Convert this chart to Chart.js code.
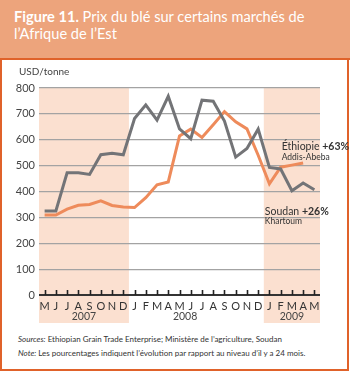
<!DOCTYPE html>
<html>
<head>
<meta charset="utf-8">
<script src="https://cdn.jsdelivr.net/npm/chart.js@4/dist/chart.umd.min.js"></script>
<style>
  body { margin: 0; background: #fff; }
  #fig { position: relative; width: 350px; height: 372px; overflow: hidden; font-family: Lato, sans-serif; }
  #head { position: absolute; left: 0; top: 0; width: 350px; height: 58px; background: #EDA47C; border-bottom: 2px solid #E0622A; }
  #head div { position: absolute; left: 14px; top: 8px; color: #fff; font-size: 14.6px; line-height: 17px; }
  #frame { position: absolute; left: 0; top: 60px; width: 345px; height: 309px; border: 2px solid #E0622A; border-top: none; }
  #chartBox { position: absolute; left: 0; top: 60px; width: 350px; height: 270px; }
  #notes { position: absolute; left: 18px; top: 332px; font-size: 8px; line-height: 14px; color: #333; }
</style>
</head>
<body>
<div id="fig">
  <div id="head"><div><b>Figure 11.</b> Prix du blé sur certains marchés de<br>l’Afrique de l’Est</div></div>
  <div id="frame"></div>
  <div id="chartBox"><canvas id="chart" width="350" height="270"></canvas></div>
  <div id="notes">
    <i>Sources:</i> Ethiopian Grain Trade Enterprise; Ministère de l’agriculture, Soudan<br>
    <i>Note:</i> Les pourcentages indiquent l’évolution par rapport au niveau d’il y a 24 mois.
  </div>
</div>
<script>
// May 2007 .. May 2009
const months = ['M','J','J','A','S','O','N','D','J','F','M','A','M','J','J','A','S','O','N','D','J','F','M','A','M'];
const soudanKhartoum = [325, 325, 472, 472, 466, 542, 548, 542, 682, 735, 676, 768, 642, 604, 753, 749, 672, 533, 566, 641, 493, 487, 403, 433, 407];
const ethiopieAddis = [309, 309, 332, 347, 350, 364, 346, 340, 338, 376, 426, 437, 615, 641, 609, 658, 709, 669, 642, 540, 430, 494, 502, 510, null];
const yTicks = [0, 100, 200, 300, 400, 500, 600, 700, 800];
// year label, centred at this category position
const years = [['2007', 3.5], ['2008', 12.5], ['2009', 22]];
// shaded spans, in category positions
const shaded = [[-0.5, 7.5], [19.5, 24.5]];

const ORANGE = '#EE8B5B';
const GREY = '#737477';
const SHADE = '#FBE0D0';

const decorations = {
  id: 'decorations',
  beforeDraw(chart) {
    const { ctx, chartArea, scales: { x } } = chart;
    ctx.save();
    ctx.fillStyle = SHADE;
    shaded.forEach(([a, b]) => {
      const x0 = x.getPixelForValue(a);
      const x1 = x.getPixelForValue(b);
      ctx.fillRect(x0, chartArea.top - 1, x1 - x0, chartArea.bottom - chartArea.top + 29);
    });
    ctx.restore();
  },
  afterDraw(chart) {
    const { ctx, chartArea, scales: { x, y } } = chart;
    ctx.save();
    // tick marks pointing up from the axis
    ctx.strokeStyle = '#222';
    ctx.lineWidth = 1.6;
    months.forEach((m, i) => {
      const px = Math.round(x.getPixelForValue(i)) + 0.5;
      ctx.beginPath();
      ctx.moveTo(px, chartArea.bottom);
      ctx.lineTo(px, chartArea.bottom - 5);
      ctx.stroke();
    });
    // year labels
    ctx.fillStyle = '#444';
    ctx.font = '10.5px Lato';
    ctx.textAlign = 'center';
    ctx.textBaseline = 'middle';
    years.forEach(([t, pos]) => {
      ctx.fillText(t, x.getPixelForValue(pos), chartArea.bottom + 22);
    });
    // unit
    ctx.font = '10px Lato';
    ctx.textAlign = 'left';
    ctx.fillText('USD/tonne', chartArea.left - 20, chartArea.top - 16);

    // series labels, placed from the series end points
    const eX = x.getPixelForValue(21);
    const eY = y.getPixelForValue(ethiopieAddis[23]);
    ctx.font = '10.5px Lato';
    ctx.textBaseline = 'alphabetic';
    ctx.fillStyle = '#333';
    let w = ctx.measureText('Éthiopie ').width;
    ctx.fillText('Éthiopie ', eX + 1, eY - 13);
    ctx.font = 'bold 10.5px Lato';
    ctx.fillText('+63%', eX + 1 + w, eY - 13);
    ctx.font = '8.5px Lato';
    ctx.fillText('Addis-Abeba', eX + 1, eY - 3);

    const sX = x.getPixelForValue(19.5);
    const sY = y.getPixelForValue(soudanKhartoum[24]);
    ctx.font = '10.5px Lato';
    w = ctx.measureText('Soudan ').width;
    ctx.fillText('Soudan ', sX + 1, sY + 25);
    ctx.font = 'bold 10.5px Lato';
    ctx.fillText('+26%', sX + 1 + w, sY + 25);
    ctx.font = '8.5px Lato';
    ctx.fillText('Khartoum', sX + 1, sY + 34);
    ctx.restore();
  }
};

new Chart(document.getElementById('chart'), {
  type: 'line',
  data: {
    labels: months,
    datasets: [
      {
        label: 'Soudan, Khartoum',
        data: soudanKhartoum,
        borderColor: GREY,
        borderWidth: 3,
        pointRadius: 0,
        tension: 0
      },
      {
        label: 'Éthiopie, Addis-Abeba',
        data: ethiopieAddis,
        borderColor: ORANGE,
        borderWidth: 3,
        pointRadius: 0,
        tension: 0
      }
    ]
  },
  options: {
    responsive: false,
    animation: false,
    layout: { padding: { left: 0, right: 30, top: 28, bottom: 0 } },
    plugins: { legend: { display: false }, tooltip: { enabled: false } },
    scales: {
      x: {
        offset: true,
        grid: { display: false, drawTicks: false },
        border: { display: false },
        ticks: {
          autoSkip: false,
          maxRotation: 0,
          padding: 5,
          color: '#333',
          font: { family: 'Lato', size: 11 }
        },
        afterFit: (scale) => { scale.height = 35; }
      },
      y: {
        min: 0,
        max: 800,
        afterBuildTicks: (scale) => { scale.ticks = yTicks.map(v => ({ value: v })); },
        grid: {
          drawTicks: false,
          color: (c) => c.tick.value === 0 ? '#333' : '#A3A3A3',
          lineWidth: (c) => c.tick.value === 0 ? 2 : 1.2
        },
        border: { display: false },
        ticks: {
          padding: 4,
          color: '#444',
          font: { family: 'Lato', size: 11 }
        },
        afterFit: (scale) => { scale.width = 39; }
      }
    }
  },
  plugins: [decorations]
});
</script>
</body>
</html>
